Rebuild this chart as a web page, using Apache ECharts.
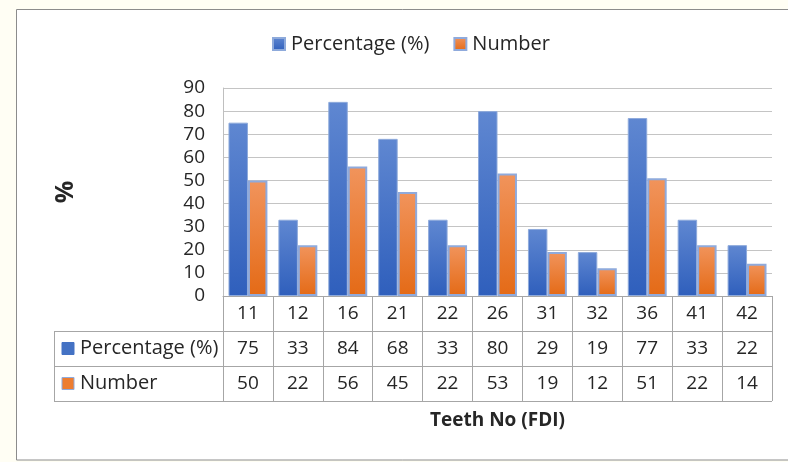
<!DOCTYPE html>
<html>
<head>
<meta charset="utf-8">
<script src="https://cdn.jsdelivr.net/npm/echarts@6/dist/echarts.min.js"></script>
<style>
  html, body { margin: 0; padding: 0; background: #fffef4; }
  #chart { width: 788px; height: 462px; }
</style>
</head>
<body>
<div id="chart"></div>
<script>
// Teeth (FDI numbering) and their counts / percentages
const teeth = ['11', '12', '16', '21', '22', '26', '31', '32', '36', '41', '42'];
const percentage = [75, 33, 84, 68, 33, 80, 29, 19, 77, 33, 22];
const number = [50, 22, 56, 45, 22, 53, 19, 12, 51, 22, 14];
const yTicks = [0, 10, 20, 30, 40, 50, 60, 70, 80, 90];

const FONT = 'Open Sans';
const TEXT = '#262626';
const LINE = '#a6a6a6';

// plot frame
const GRID = { left: 223, right: 16, top: 88, bottom: 166 };
const W = 788, H = 462;
const axisY = H - GRID.bottom;
const plotRight = W - GRID.right;
const ROW = 35;
const tableLeft = 54;

const blueFill = new echarts.graphic.LinearGradient(0, 0, 0, 1, [
  { offset: 0, color: '#5f87d1' }, { offset: 1, color: '#2f5fbc' }
]);
const orangeFill = new echarts.graphic.LinearGradient(0, 0, 0, 1, [
  { offset: 0, color: '#f1945c' }, { offset: 1, color: '#e46a16' }
]);

const chart = echarts.init(document.getElementById('chart'), null, { renderer: 'canvas' });

function rowAxis(offset, values) {
  return {
    type: 'category',
    data: teeth,
    position: 'bottom',
    offset: offset,
    axisLine: { show: false },
    axisTick: { show: false },
    axisLabel: {
      interval: 0, margin: ROW / 2, verticalAlign: 'middle',
      fontFamily: FONT, fontSize: 19, color: TEXT,
      formatter: (v, i) => String(values[i])
    }
  };
}

// table frame lines and row headers
const graphics = [
  { type: 'rect', z: -10, silent: true,
    shape: { x: 16.5, y: 9.5, width: 800, height: 450.5 },
    style: { fill: '#ffffff', stroke: '#8c8c8c', lineWidth: 1 } }
];
[1, 2, 3].forEach(k => {
  graphics.push({ type: 'line', silent: true,
    shape: { x1: tableLeft, y1: axisY + k * ROW + 0.5, x2: plotRight, y2: axisY + k * ROW + 0.5 },
    style: { stroke: LINE, lineWidth: 1 } });
});
graphics.push({ type: 'line', silent: true,
  shape: { x1: tableLeft + 0.5, y1: axisY + ROW, x2: tableLeft + 0.5, y2: axisY + 3 * ROW },
  style: { stroke: LINE, lineWidth: 1 } });
[['Percentage (%)', '#4472c4', '#4472c4'], ['Number', '#ed7d31', '#8faadc']].forEach((r, k) => {
  const cy = axisY + ROW * (k + 1) + ROW / 2;
  graphics.push({ type: 'rect', silent: true,
    shape: { x: 62, y: cy - 6, width: 12, height: 12 },
    style: { fill: r[1], stroke: r[2], lineWidth: 1 } });
  graphics.push({ type: 'text', silent: true,
    x: 80, y: cy,
    style: { text: r[0], fontFamily: FONT, fontSize: 20, fill: TEXT, verticalAlign: 'middle' } });
});
graphics.push({ type: 'text', silent: true,
  x: (GRID.left + plotRight) / 2, y: 421,
  style: { text: 'Teeth No (FDI)', fontFamily: FONT, fontSize: 19, fontWeight: 'bold', fill: TEXT,
           align: 'center', verticalAlign: 'middle' } });

chart.setOption({
  animation: false,
  backgroundColor: 'transparent',
  textStyle: { fontFamily: FONT },
  grid: GRID,
  legend: {
    left: 267, top: 29,
    itemWidth: 12, itemHeight: 12, itemGap: 24,
    icon: 'rect',
    textStyle: { fontFamily: FONT, fontSize: 20, color: TEXT, padding: [0, 0, 0, 1] },
    data: ['Percentage (%)', 'Number']
  },
  xAxis: [
    {
      type: 'category',
      data: teeth,
      axisLine: { show: true, lineStyle: { color: LINE, width: 1 } },
      axisTick: { show: true, interval: 0, length: 3 * ROW, lineStyle: { color: LINE } },
      axisLabel: { interval: 0, margin: ROW / 2, verticalAlign: 'middle',
                   fontFamily: FONT, fontSize: 19, color: TEXT }
    },
    rowAxis(ROW, percentage),
    rowAxis(2 * ROW, number)
  ],
  yAxis: {
    type: 'value',
    min: yTicks[0], max: yTicks[yTicks.length - 1], interval: 10,
    name: '%',
    nameLocation: 'middle',
    nameRotate: 90,
    nameGap: 145,
    nameTextStyle: { fontFamily: FONT, fontSize: 25, fontWeight: 'bold', color: TEXT },
    axisLine: { show: true, lineStyle: { color: '#bfbfbf' } },
    axisTick: { show: false },
    axisLabel: { margin: 18, fontFamily: FONT, fontSize: 19, color: TEXT },
    splitLine: { lineStyle: { color: '#c4c4c4', width: 1.2 } }
  },
  series: [
    {
      name: 'Percentage (%)', type: 'bar', data: percentage,
      barGap: '0%', barCategoryGap: '22%',
      itemStyle: { color: blueFill, borderColor: '#8eaadb', borderWidth: 1 }
    },
    {
      name: 'Number', type: 'bar', data: number,
      itemStyle: { color: orangeFill, borderColor: '#8faadc', borderWidth: 2 }
    }
  ],
  graphic: graphics
});
</script>
</body>
</html>
